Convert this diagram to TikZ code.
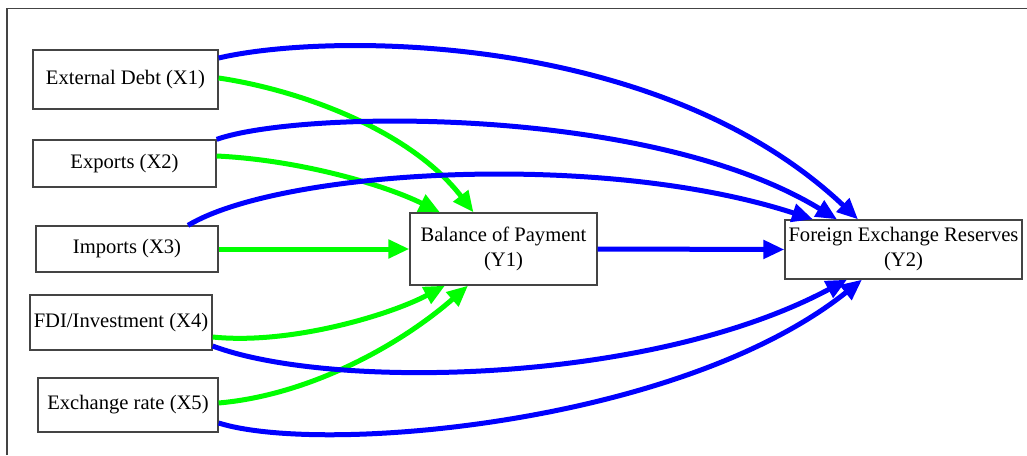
\documentclass[tikz,border=0pt]{standalone}
\usepackage{fontspec}
\setmainfont{Liberation Serif}
\usetikzlibrary{arrows.meta,calc}
\definecolor{edgeblue}{RGB}{0,0,255}
\definecolor{edgegreen}{RGB}{0,255,0}
\definecolor{framegray}{RGB}{68,68,68}
\begin{document}
\begin{tikzpicture}[x=1pt,y=-1pt,
  box/.style={draw=framegray,line width=1.3pt,inner sep=0pt,align=center,
    font=\fontsize{20.6}{25}\selectfont,text=black},
  gedge/.style={draw=edgegreen,line width=5pt,-{Triangle[length=21pt,width=18pt]}},
  bedge/.style={draw=edgeblue,line width=5pt,-{Triangle[length=21pt,width=18pt]}}]
\useasboundingbox (0,0) rectangle (1027,455);
\draw[framegray,line width=1.5pt] (7,455) -- (7,8.5) -- (1027,8.5);
% nodes
\node[box,minimum width=185pt,minimum height=59pt] (X1) at (125.5,79.5) {External Debt (X1)};
\node[box,minimum width=183pt,minimum height=47pt] (X2) at (124.5,163.5) {Exports (X2)};
\node[box,minimum width=182pt,minimum height=46pt] (X3) at (127,249) {Imports (X3)};
\node[box,minimum width=182pt,minimum height=55pt] (X4) at (121,322.5) {FDI/Investment (X4)};
\node[box,minimum width=180pt,minimum height=54pt] (X5) at (128,405) {Exchange rate (X5)};
\node[box,minimum width=187pt,minimum height=72pt] (Y1) at (503.5,249) {Balance of Payment\\(Y1)};
\node[box,minimum width=237pt,minimum height=59pt] (Y2) at (903.5,249.5) {Foreign Exchange Reserves\\(Y2)};
% green edges to Y1
\draw[gedge] ($(X1.east)+(0,-1.5)$) .. controls (300,90) and (410,130) .. ($(Y1.north)+(-30,0)$);
\draw[gedge] ($(X2.east)+(0,-7.5)$) .. controls (300,160) and (385,185) .. ($(Y1.north)+(-63.5,0)$);
\draw[gedge] (X3.east) -- (Y1.west);
\draw[gedge] ($(X4.east)+(0,14.5)$) .. controls (290,345) and (390,315) .. ($(Y1.south)+(-58.5,0)$);
\draw[gedge] ($(X5.east)+(0,-2)$) .. controls (310,395) and (400,345) .. ($(Y1.south)+(-35.5,0)$);
% blue edges to Y2
\draw[bedge] ($(X1.east)+(0,-21.5)$) .. controls (330,32) and (660,32) .. ($(Y2.north)+(-45.5,0)$);
\draw[bedge] (X2.north east) .. controls (300,110) and (650,105) .. ($(Y2.north)+(-66.5,0)$);
\draw[bedge] ($(X3.north)+(61,0)$) .. controls (280,170) and (600,150) .. ($(Y2.north)+(-90.5,0)$);
\draw[bedge] (Y1.east) -- (Y2.west);
\draw[bedge] ($(X4.east)+(0,23.5)$) .. controls (330,390) and (650,385) .. ($(Y2.south)+(-56.5,0)$);
\draw[bedge] ($(X5.east)+(0,18)$) .. controls (320,455) and (680,425) .. ($(Y2.south)+(-41.5,0)$);
\end{tikzpicture}
\end{document}
